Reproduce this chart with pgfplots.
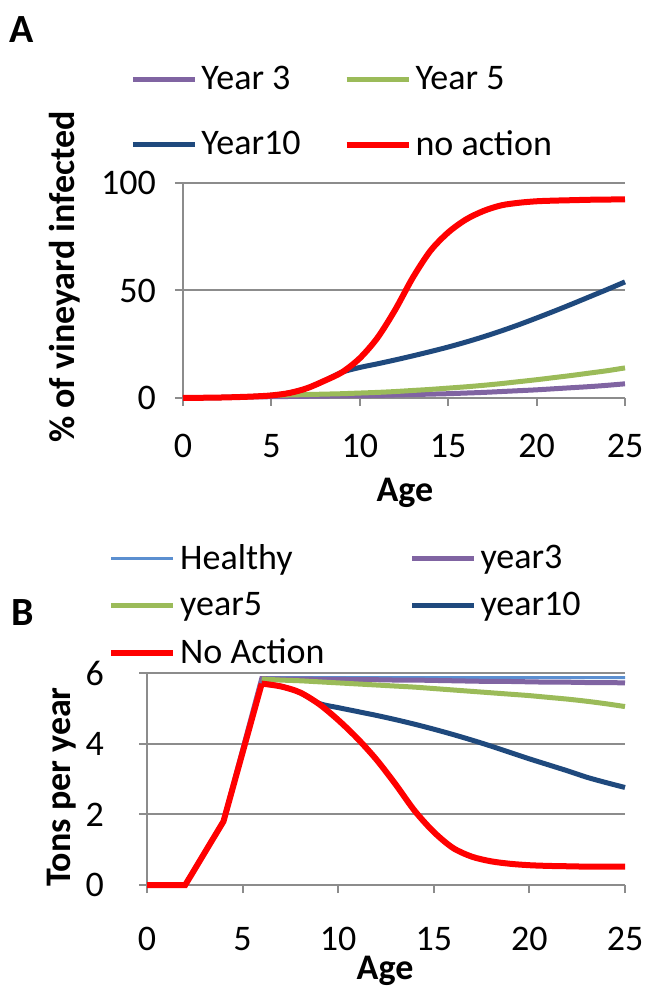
\documentclass[border=0pt]{standalone}
\usepackage{pgfplots}
\pgfplotsset{compat=1.18}
\usepackage{fontspec}
\setmainfont{Carlito}
\definecolor{cpurple}{HTML}{8064A2}
\definecolor{cgreen}{HTML}{9BBB59}
\definecolor{cnavy}{HTML}{1F497D}
\definecolor{cred}{HTML}{FF0000}
\definecolor{chealthy}{HTML}{5B8FD0}
\definecolor{cgrid}{HTML}{8C8C8C}
\pgfplotsset{
  mystyle/.style={
    scale only axis, clip=false,
    axis x line*=bottom, axis y line*=left,
    axis line style={cgrid, line width=1pt},
    xmin=0, xmax=25, xtick={0,5,...,25},
    ymajorgrids, grid style={cgrid, line width=1pt},
    tick align=outside, major tick length=4pt,
    tick style={cgrid, line width=1pt},
    /pgf/number format/assume math mode=true,
    tick label style={font=\fontsize{18}{20}\selectfont, text=black},
    legend style={draw=none, fill=none, font=\fontsize{18}{20}\selectfont, anchor=north west, inner sep=0pt},
    legend cell align=left,
    legend columns=2,
    legend image code/.code={\draw[##1] (0pt,0pt) -- (31pt,0pt);},
  }
}
\begin{document}
\begin{tikzpicture}[font=\fontsize{18}{20}\selectfont]
\useasboundingbox (0,0) rectangle (328.5pt,495.5pt);
\node[font=\bfseries\fontsize{20}{22}\selectfont] at (11pt,480.5pt) {A};
\node[font=\bfseries\fontsize{20}{22}\selectfont] at (11.5pt,189pt) {B};
% Panel A
\begin{axis}[mystyle,
  at={(91.5pt,296.5pt)}, anchor=south west,
  width=221pt, height=107.5pt,
  ymin=0, ymax=100, ytick={0,50,100},
  xlabel={\bfseries Age}, ylabel={\bfseries\% of vineyard infected},
  every axis x label/.style={at={(axis description cs:0.502,-0.442)}, anchor=center},
  every axis y label/.style={at={(axis description cs:-0.267,0.563)}, rotate=90, anchor=center},
  xticklabel style={anchor=center, yshift=-20pt},
  yticklabel style={anchor=east, xshift=-6pt},
  legend style={at={(axis description cs:-0.12,1.563)}, row sep=15pt, /tikz/every even column/.append style={column sep=19.5pt}},
]
\addplot[cpurple, line width=2.5pt, smooth] coordinates {(0,0) (1,0.1) (2,0.2) (3,0.4) (4,0.5) (5,0.6) (6,0.7) (7,0.8) (8,0.9) (9,1.0) (10,1.1) (11,1.2) (12,1.4) (13,1.6) (14,1.8) (15,2.0) (16,2.3) (17,2.6) (18,3.0) (19,3.4) (20,3.8) (21,4.3) (22,4.8) (23,5.3) (24,5.9) (25,6.6)};
\addlegendentry{Year 3}
\addplot[cgreen, line width=2.5pt, smooth] coordinates {(0,0) (1,0.1) (2,0.2) (3,0.4) (4,0.7) (5,1.2) (6,1.4) (7,1.6) (8,1.8) (9,2.0) (10,2.3) (11,2.6) (12,3.0) (13,3.5) (14,4.0) (15,4.6) (16,5.2) (17,5.9) (18,6.7) (19,7.6) (20,8.5) (21,9.5) (22,10.5) (23,11.6) (24,12.7) (25,14.0)};
\addlegendentry{Year 5}
\addplot[cnavy, line width=2.5pt, smooth] coordinates {(0,0) (1,0.1) (2,0.2) (3,0.4) (4,0.7) (5,1.2) (6,2.3) (7,4.5) (8,8) (9,12) (10,14.2) (11,15.9) (12,17.7) (13,19.6) (14,21.6) (15,23.7) (16,26.0) (17,28.5) (18,31.2) (19,34.1) (20,37.2) (21,40.4) (22,43.7) (23,47.1) (24,50.5) (25,54.0)};
\addlegendentry{Year10}
\addplot[cred, line width=3pt, smooth] coordinates {(0,0) (1,0.1) (2,0.2) (3,0.4) (4,0.7) (5,1.2) (6,2.3) (7,4.5) (8,8) (9,12) (10,18.5) (11,28) (12,41) (13,56) (14,68.5) (15,77) (16,83) (17,87) (18,89.6) (19,90.8) (20,91.5) (21,91.8) (22,92.0) (23,92.2) (24,92.3) (25,92.4)};
\addlegendentry{no action}
\end{axis}
% Panel B
\begin{axis}[mystyle,
  at={(73.5pt,53pt)}, anchor=south west,
  width=239pt, height=106pt,
  ymin=0, ymax=6, ytick={0,2,4,6},
  xlabel={\bfseries Age}, ylabel={\bfseries Tons per year},
  every axis x label/.style={at={(axis description cs:0.498,-0.405)}, anchor=center},
  every axis y label/.style={at={(axis description cs:-0.178,0.462)}, rotate=90, anchor=center},
  xticklabel style={anchor=center, yshift=-23pt},
  yticklabel style={anchor=east, xshift=-14pt},
  legend style={at={(axis description cs:-0.082,1.627)}, row sep=6pt, /tikz/every even column/.append style={column sep=40.5pt}},
]
\addplot[chealthy, line width=1.5pt] coordinates {(0,0) (2,0) (4,1.8) (6,5.87) (10,5.87) (15,5.87) (20,5.87) (25,5.87)};
\addlegendentry{Healthy}
\addplot[cpurple, line width=2.5pt] coordinates {(0,0) (2,0) (4,1.8) (6,5.84) (7,5.83) (8,5.83) (9,5.82) (10,5.82) (11,5.81) (12,5.81) (13,5.80) (14,5.80) (15,5.79) (16,5.78) (17,5.77) (18,5.76) (19,5.76) (20,5.75) (21,5.74) (22,5.74) (23,5.73) (24,5.73) (25,5.72)};
\addlegendentry{year3}
\addplot[cgreen, line width=2.5pt, smooth] coordinates {(6,5.83) (7,5.8) (8,5.78) (9,5.75) (10,5.72) (11,5.69) (12,5.66) (13,5.63) (14,5.6) (15,5.56) (16,5.52) (17,5.48) (18,5.44) (19,5.4) (20,5.36) (21,5.31) (22,5.26) (23,5.2) (24,5.13) (25,5.05)};
\addlegendentry{year5}
\addplot[cnavy, line width=2.5pt, smooth] coordinates {(6,5.7) (7,5.62) (8,5.45) (9,5.14) (10,5.02) (11,4.91) (12,4.8) (13,4.68) (14,4.55) (15,4.41) (16,4.26) (17,4.1) (18,3.93) (19,3.75) (20,3.57) (21,3.4) (22,3.23) (23,3.05) (24,2.9) (25,2.76)};
\addlegendentry{year10}
\addplot[cred, line width=3pt] coordinates {(0,0) (2,0) (4,1.8) (6,5.7)};
\addlegendentry{No Action}
\addplot[cred, line width=3pt, smooth, forget plot] coordinates {(6,5.7) (7,5.62) (8,5.45) (9,5.12) (10,4.67) (11,4.15) (12,3.55) (13,2.85) (14,2.1) (15,1.5) (16,1.05) (17,0.8) (18,0.67) (19,0.6) (20,0.56) (21,0.54) (22,0.53) (23,0.52) (24,0.52) (25,0.52)};
\end{axis}
\end{tikzpicture}
\end{document}
